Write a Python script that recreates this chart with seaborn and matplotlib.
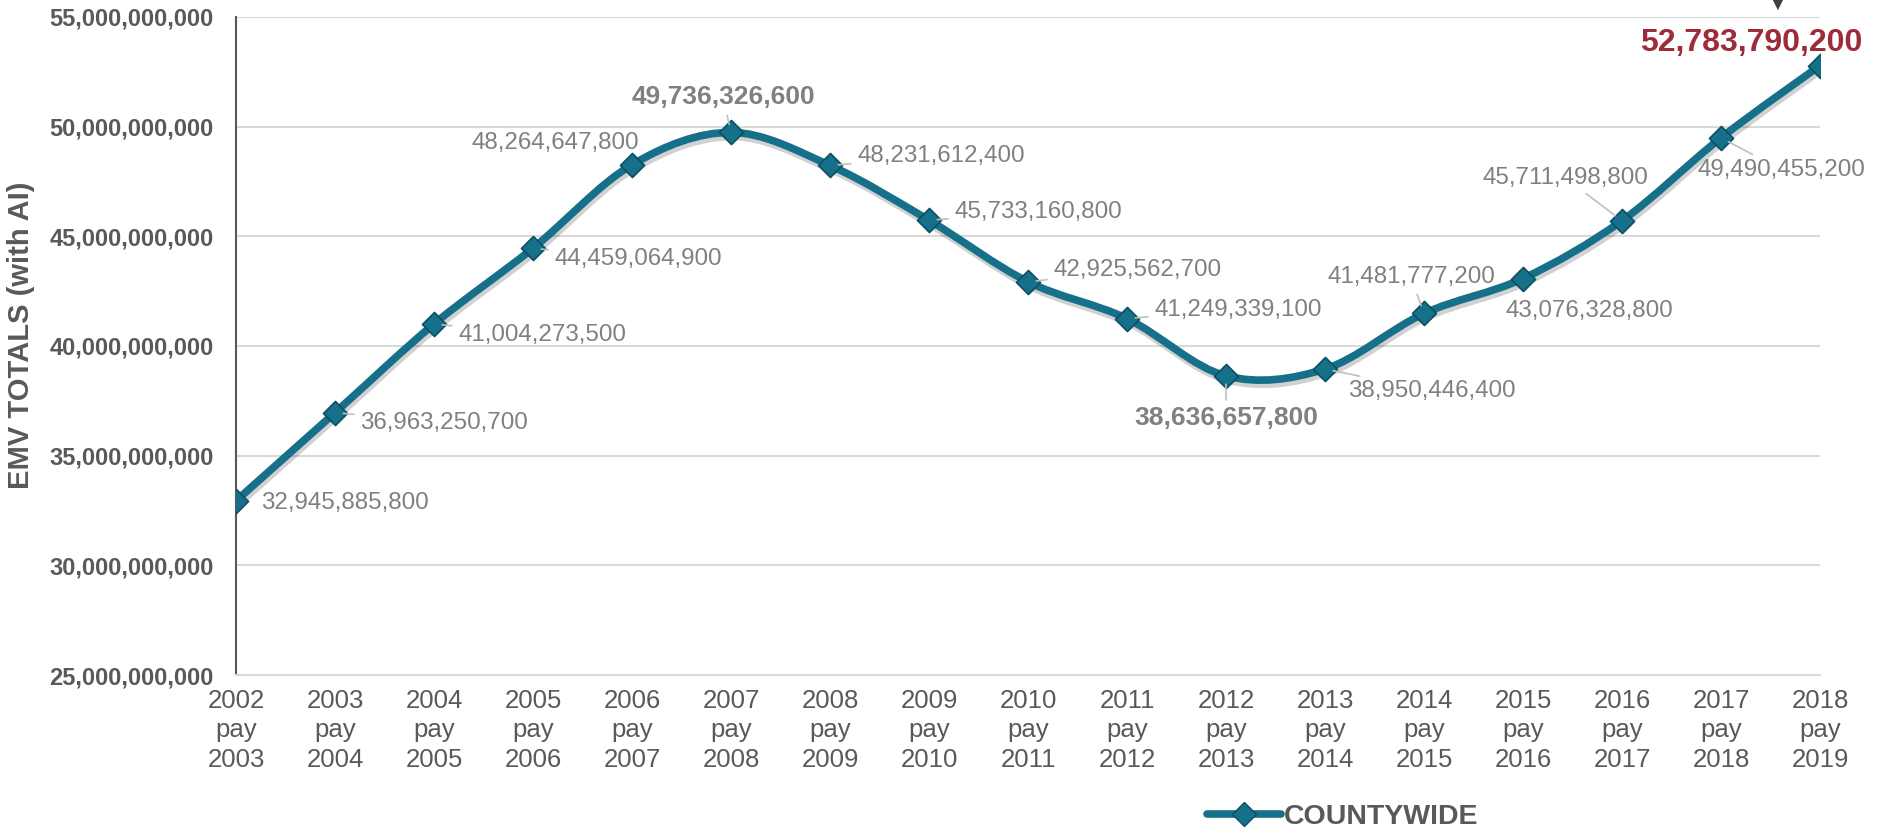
import numpy as np
import pandas as pd
import matplotlib
matplotlib.use("Agg")
import matplotlib.pyplot as plt
import seaborn as sns
from matplotlib.path import Path
from matplotlib.patches import PathPatch
from matplotlib.lines import Line2D
from matplotlib.ticker import FuncFormatter
import matplotlib.patheffects as pe

# ---------------- data ----------------
years = ["2002\npay\n2003", "2003\npay\n2004", "2004\npay\n2005", "2005\npay\n2006",
         "2006\npay\n2007", "2007\npay\n2008", "2008\npay\n2009", "2009\npay\n2010",
         "2010\npay\n2011", "2011\npay\n2012", "2012\npay\n2013", "2013\npay\n2014",
         "2014\npay\n2015", "2015\npay\n2016", "2016\npay\n2017", "2017\npay\n2018",
         "2018\npay\n2019"]
values = [32945885800, 36963250700, 41004273500, 44459064900, 48264647800,
          49736326600, 48231612400, 45733160800, 42925562700, 41249339100,
          38636657800, 38950446400, 41481777200, 43076328800, 45711498800,
          49490455200, 52783790200]
series_name = "COUNTYWIDE"
y_ticks = [25e9, 30e9, 35e9, 40e9, 45e9, 50e9, 55e9]

# label placement (pixel offsets, alignment, style, leader line)
label_dx = [25, 25, 24, 21, 7, -8, 27, 25, 25, 27, 0, 23, -13, -17, -57, -23, -69]
label_dy = [-2, -10, -11, -11, 22, 35, 9, 8, 12, 9, -42, -22, 36, -32, 43, -32, 23]
label_ha = ["left", "left", "left", "left", "right", "center", "left", "left", "left",
            "left", "center", "left", "center", "left", "center", "left", "center"]
label_style = ["n"] * 5 + ["b"] + ["n"] * 4 + ["b"] + ["n"] * 5 + ["r"]
label_leader = [0, 1, 1, 1, 0, 1, 1, 1, 1, 1, 1, 1, 1, 0, 1, 1, 0]

TEAL = "#17708A"
TEAL_DARK = "#0B4F63"
GRAY_T = "#595959"
GRAY_L = "#808080"
RED = "#9E2B39"

sns.set_theme(style="white")
plt.rcParams["font.family"] = ["Liberation Sans", "DejaVu Sans"]

df = pd.DataFrame({"idx": np.arange(len(values)), "value": values, "year": years})

fig = plt.figure(figsize=(18.78, 8.32), dpi=100)
ax = fig.add_axes([0.1257, 0.1887, 0.8434, 0.7909])

# smooth (Excel-style) line through the data points, drawn as a Bezier path
xs = df["idx"].to_numpy(dtype=float)
ys = df["value"].to_numpy(dtype=float)
n = len(xs)
verts = [(xs[0], ys[0])]
codes = [Path.MOVETO]
for i in range(n - 1):
    p0 = np.array([xs[max(i - 1, 0)], ys[max(i - 1, 0)]])
    p1 = np.array([xs[i], ys[i]])
    p2 = np.array([xs[i + 1], ys[i + 1]])
    p3 = np.array([xs[min(i + 2, n - 1)], ys[min(i + 2, n - 1)]])
    c1 = p1 + (p2 - p0) / 6.0
    c2 = p2 - (p3 - p1) / 6.0
    verts += [tuple(c1), tuple(c2), tuple(p2)]
    codes += [Path.CURVE4] * 3
patch = PathPatch(Path(verts, codes), facecolor="none", edgecolor=TEAL, lw=5.5,
                  capstyle="round", joinstyle="round", zorder=3,
                  path_effects=[pe.SimpleLineShadow(offset=(1, -3), shadow_color="black",
                                                    alpha=0.18), pe.Normal()])
ax.add_patch(patch)

sns.scatterplot(data=df, x="idx", y="value", marker="D", s=150, color=TEAL,
                edgecolor=TEAL_DARK, linewidth=1.2, zorder=4, legend=False, ax=ax)

# data labels
for i in range(n):
    st = label_style[i]
    if st == "n":
        kw = dict(fontsize=17.4, color=GRAY_L, fontweight="normal")
    elif st == "b":
        kw = dict(fontsize=19, color=GRAY_L, fontweight="bold")
    else:
        kw = dict(fontsize=23, color=RED, fontweight="bold")
    arrow = dict(arrowstyle="-", color="#BFBFBF", lw=1.2, shrinkA=2, shrinkB=6) if label_leader[i] else None
    ax.annotate(f"{values[i]:,}", xy=(xs[i], ys[i]), xytext=(label_dx[i], label_dy[i]),
                textcoords="offset pixels", ha=label_ha[i], va="center",
                arrowprops=arrow, zorder=5, **kw)

# axes styling
ax.set_xlim(0, n - 1)
ax.set_ylim(y_ticks[0], y_ticks[-1])
ax.set_yticks(y_ticks)
ax.yaxis.set_major_formatter(FuncFormatter(lambda v, p: f"{int(v):,}"))
ax.set_xticks(xs)
ax.set_xticklabels(years, linespacing=1.28)
ax.tick_params(axis="x", length=0, pad=10, labelsize=18.5, labelcolor=GRAY_T)
ax.tick_params(axis="y", length=0, pad=16, labelsize=17, labelcolor=GRAY_T)
for lbl in ax.get_yticklabels():
    lbl.set_fontweight("bold")
ax.grid(axis="y", color="#D9D9D9", lw=1.5)
ax.grid(axis="x", visible=False)
ax.set_axisbelow(True)
for s in ["top", "right"]:
    ax.spines[s].set_visible(False)
ax.spines["left"].set_color(GRAY_T)
ax.spines["left"].set_linewidth(1.5)
ax.spines["bottom"].set_color("#D9D9D9")
ax.spines["bottom"].set_linewidth(1.5)
ax.set_xlabel("")
ax.set_ylabel("EMV TOTALS (with AI)", fontsize=21, fontweight="bold", color=GRAY_T)
ax.yaxis.set_label_coords(-0.127, 0.517)

# small clipped marker at top right
ax.text(0.9735, 1.022, "\u25BC", transform=ax.transAxes, ha="center", va="center",
        fontsize=13, color="#404040", family="DejaVu Sans", clip_on=False)

# legend
handle = Line2D([0], [0], color=TEAL, lw=5.5, marker="D", markersize=12,
                markerfacecolor=TEAL, markeredgecolor=TEAL_DARK)
leg = fig.legend([handle], [series_name], loc="center", bbox_to_anchor=(0.715, 0.018),
                 frameon=False, handlelength=2.6, handletextpad=0.1,
                 prop={"size": 20.5, "weight": "bold"})
for t in leg.get_texts():
    t.set_color(GRAY_T)

fig.savefig("out.png", dpi=100)
